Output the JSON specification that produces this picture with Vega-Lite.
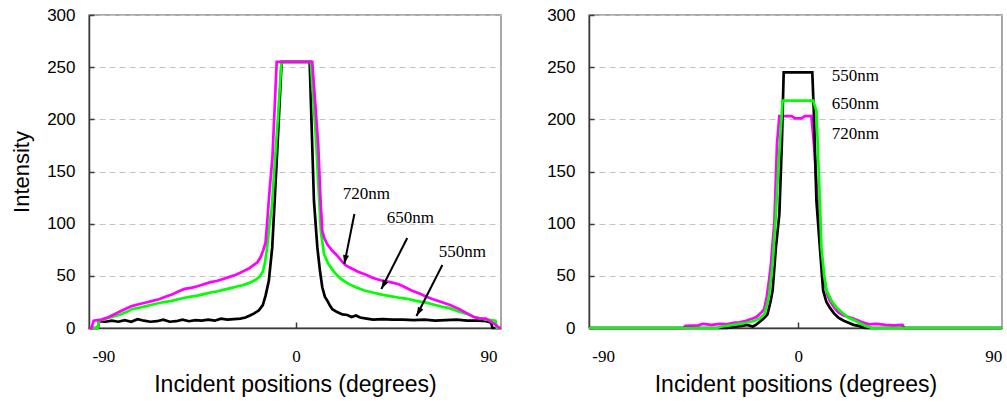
{
  "$schema": "https://vega.github.io/schema/vega-lite/v6.json",
  "autosize": {"type": "pad"},
  "padding": {"left": 9, "top": 5, "right": 0, "bottom": 5},
  "background": "white",
  "spacing": 88,
  "bounds": "flush",
  "config": {
    "view": {"stroke": "#8a8a8a", "strokeWidth": 1.5},
    "axis": {"domainColor": "#3a3a3a", "domainWidth": 1.5, "tickColor": "#3a3a3a", "tickWidth": 1.5, "labelColor": "#000000", "titleColor": "#000000", "titleFontWeight": "normal", "titleFont": "Liberation Sans"},
    "axisY": {"labelFont": "Liberation Sans", "labelFontSize": 17, "tickSize": -5, "labelPadding": 19, "grid": true, "gridColor": "#c4c4c4", "gridDash": [6, 4], "gridWidth": 1, "titleFontSize": 22, "titlePadding": 13},
    "axisX": {"labelFont": "Liberation Serif", "labelFontSize": 17, "tickSize": -6, "labelPadding": 26, "grid": false, "titleFontSize": 23, "titlePadding": 9, "labelExpr": "toString(datum.value)"}
  },
  "datasets": {
    "left": [
      {"s": "550nm", "x": -96.9, "y": 0}, {"s": "550nm", "x": -92.6, "y": 0}, {"s": "550nm", "x": -92, "y": 6.5}, {"s": "550nm", "x": -89, "y": 6}, {"s": "550nm", "x": -86, "y": 7}, {"s": "550nm", "x": -83, "y": 6}, {"s": "550nm", "x": -80, "y": 7.5}, {"s": "550nm", "x": -77, "y": 6}, {"s": "550nm", "x": -74, "y": 8.5}, {"s": "550nm", "x": -71, "y": 7}, {"s": "550nm", "x": -68, "y": 6}, {"s": "550nm", "x": -65, "y": 6.5}, {"s": "550nm", "x": -62, "y": 8}, {"s": "550nm", "x": -59, "y": 6}, {"s": "550nm", "x": -56, "y": 6.5}, {"s": "550nm", "x": -53, "y": 8}, {"s": "550nm", "x": -50, "y": 6.5}, {"s": "550nm", "x": -47, "y": 7.5}, {"s": "550nm", "x": -44, "y": 7}, {"s": "550nm", "x": -41, "y": 8}, {"s": "550nm", "x": -38, "y": 7}, {"s": "550nm", "x": -35, "y": 9}, {"s": "550nm", "x": -32, "y": 8}, {"s": "550nm", "x": -29, "y": 8.5}, {"s": "550nm", "x": -26, "y": 9}, {"s": "550nm", "x": -23.6, "y": 10}, {"s": "550nm", "x": -21.5, "y": 12}, {"s": "550nm", "x": -19.5, "y": 14}, {"s": "550nm", "x": -17.3, "y": 17}, {"s": "550nm", "x": -15.5, "y": 22}, {"s": "550nm", "x": -14.2, "y": 31}, {"s": "550nm", "x": -12.7, "y": 45}, {"s": "550nm", "x": -11.1, "y": 77}, {"s": "550nm", "x": -10, "y": 120}, {"s": "550nm", "x": -8.5, "y": 180}, {"s": "550nm", "x": -6.7, "y": 255}, {"s": "550nm", "x": 6.4, "y": 255}, {"s": "550nm", "x": 8.4, "y": 122}, {"s": "550nm", "x": 10, "y": 77}, {"s": "550nm", "x": 11.2, "y": 55}, {"s": "550nm", "x": 12.3, "y": 39}, {"s": "550nm", "x": 13.5, "y": 30}, {"s": "550nm", "x": 14.7, "y": 26}, {"s": "550nm", "x": 16, "y": 21}, {"s": "550nm", "x": 17, "y": 18}, {"s": "550nm", "x": 19, "y": 15.5}, {"s": "550nm", "x": 21.7, "y": 13}, {"s": "550nm", "x": 24, "y": 12.5}, {"s": "550nm", "x": 26, "y": 10.5}, {"s": "550nm", "x": 28, "y": 12}, {"s": "550nm", "x": 30, "y": 10}, {"s": "550nm", "x": 33, "y": 9}, {"s": "550nm", "x": 36, "y": 8}, {"s": "550nm", "x": 40.5, "y": 8.5}, {"s": "550nm", "x": 45, "y": 8}, {"s": "550nm", "x": 50, "y": 8}, {"s": "550nm", "x": 55, "y": 7.5}, {"s": "550nm", "x": 60, "y": 8}, {"s": "550nm", "x": 65, "y": 7}, {"s": "550nm", "x": 70, "y": 7.5}, {"s": "550nm", "x": 75, "y": 8}, {"s": "550nm", "x": 80, "y": 7}, {"s": "550nm", "x": 85, "y": 7}, {"s": "550nm", "x": 89, "y": 6.5}, {"s": "550nm", "x": 91.2, "y": 5}, {"s": "550nm", "x": 91.8, "y": 0}, {"s": "550nm", "x": 95.7, "y": 0},
      {"s": "650nm", "x": -96.9, "y": 0}, {"s": "650nm", "x": -92.6, "y": 0}, {"s": "650nm", "x": -92, "y": 7}, {"s": "650nm", "x": -89, "y": 9}, {"s": "650nm", "x": -86, "y": 10.5}, {"s": "650nm", "x": -82, "y": 13}, {"s": "650nm", "x": -79, "y": 15.5}, {"s": "650nm", "x": -76.7, "y": 18}, {"s": "650nm", "x": -73, "y": 19.5}, {"s": "650nm", "x": -70, "y": 21}, {"s": "650nm", "x": -67, "y": 22.5}, {"s": "650nm", "x": -64, "y": 24}, {"s": "650nm", "x": -61, "y": 25}, {"s": "650nm", "x": -58, "y": 26}, {"s": "650nm", "x": -55, "y": 27.5}, {"s": "650nm", "x": -52, "y": 29}, {"s": "650nm", "x": -49, "y": 30}, {"s": "650nm", "x": -46, "y": 31}, {"s": "650nm", "x": -43, "y": 32.5}, {"s": "650nm", "x": -40, "y": 34}, {"s": "650nm", "x": -37, "y": 35}, {"s": "650nm", "x": -34, "y": 36.5}, {"s": "650nm", "x": -31, "y": 38}, {"s": "650nm", "x": -28, "y": 39.5}, {"s": "650nm", "x": -25, "y": 41}, {"s": "650nm", "x": -22, "y": 43}, {"s": "650nm", "x": -19, "y": 46}, {"s": "650nm", "x": -17, "y": 49}, {"s": "650nm", "x": -15.5, "y": 54}, {"s": "650nm", "x": -14.5, "y": 62}, {"s": "650nm", "x": -13.3, "y": 80}, {"s": "650nm", "x": -12.3, "y": 100}, {"s": "650nm", "x": -11.3, "y": 115}, {"s": "650nm", "x": -10.5, "y": 140}, {"s": "650nm", "x": -8.5, "y": 200}, {"s": "650nm", "x": -6.8, "y": 255}, {"s": "650nm", "x": 6.9, "y": 255}, {"s": "650nm", "x": 9.2, "y": 186}, {"s": "650nm", "x": 10.7, "y": 128}, {"s": "650nm", "x": 11.6, "y": 93}, {"s": "650nm", "x": 13.1, "y": 71}, {"s": "650nm", "x": 15, "y": 62}, {"s": "650nm", "x": 17, "y": 56}, {"s": "650nm", "x": 19, "y": 51}, {"s": "650nm", "x": 21, "y": 47}, {"s": "650nm", "x": 24.8, "y": 42}, {"s": "650nm", "x": 28, "y": 39}, {"s": "650nm", "x": 32, "y": 36}, {"s": "650nm", "x": 35.8, "y": 34}, {"s": "650nm", "x": 40, "y": 32}, {"s": "650nm", "x": 44, "y": 30.5}, {"s": "650nm", "x": 48.3, "y": 29}, {"s": "650nm", "x": 52, "y": 28}, {"s": "650nm", "x": 56, "y": 26}, {"s": "650nm", "x": 60.8, "y": 24.3}, {"s": "650nm", "x": 65, "y": 22}, {"s": "650nm", "x": 68, "y": 20.5}, {"s": "650nm", "x": 71.7, "y": 19}, {"s": "650nm", "x": 75, "y": 16.5}, {"s": "650nm", "x": 79.5, "y": 13.7}, {"s": "650nm", "x": 83, "y": 11}, {"s": "650nm", "x": 85.8, "y": 9.3}, {"s": "650nm", "x": 89, "y": 8}, {"s": "650nm", "x": 93.2, "y": 7}, {"s": "650nm", "x": 93.8, "y": 0}, {"s": "650nm", "x": 95.7, "y": 0},
      {"s": "720nm", "x": -96.9, "y": 0}, {"s": "720nm", "x": -95.5, "y": 0}, {"s": "720nm", "x": -94.5, "y": 7}, {"s": "720nm", "x": -91, "y": 8}, {"s": "720nm", "x": -88, "y": 10}, {"s": "720nm", "x": -85, "y": 13}, {"s": "720nm", "x": -82, "y": 16}, {"s": "720nm", "x": -79, "y": 19}, {"s": "720nm", "x": -76.7, "y": 21}, {"s": "720nm", "x": -73, "y": 23}, {"s": "720nm", "x": -70, "y": 24.5}, {"s": "720nm", "x": -67, "y": 26}, {"s": "720nm", "x": -64, "y": 27.5}, {"s": "720nm", "x": -61, "y": 30}, {"s": "720nm", "x": -58, "y": 32}, {"s": "720nm", "x": -55, "y": 35}, {"s": "720nm", "x": -52, "y": 37.5}, {"s": "720nm", "x": -49, "y": 38.5}, {"s": "720nm", "x": -46, "y": 40}, {"s": "720nm", "x": -43, "y": 42}, {"s": "720nm", "x": -40, "y": 44}, {"s": "720nm", "x": -37, "y": 45}, {"s": "720nm", "x": -34, "y": 47}, {"s": "720nm", "x": -31, "y": 49}, {"s": "720nm", "x": -28, "y": 51}, {"s": "720nm", "x": -25, "y": 54}, {"s": "720nm", "x": -22, "y": 57}, {"s": "720nm", "x": -20, "y": 60}, {"s": "720nm", "x": -18, "y": 63}, {"s": "720nm", "x": -16.5, "y": 68}, {"s": "720nm", "x": -15.2, "y": 75}, {"s": "720nm", "x": -14.2, "y": 82}, {"s": "720nm", "x": -13.3, "y": 105}, {"s": "720nm", "x": -12.6, "y": 125}, {"s": "720nm", "x": -11.4, "y": 154}, {"s": "720nm", "x": -11, "y": 163}, {"s": "720nm", "x": -9, "y": 255}, {"s": "720nm", "x": 7.6, "y": 255}, {"s": "720nm", "x": 10.4, "y": 176}, {"s": "720nm", "x": 11.5, "y": 122}, {"s": "720nm", "x": 12.3, "y": 93}, {"s": "720nm", "x": 13.3, "y": 86}, {"s": "720nm", "x": 14.7, "y": 80}, {"s": "720nm", "x": 17, "y": 74}, {"s": "720nm", "x": 19, "y": 70}, {"s": "720nm", "x": 21, "y": 65}, {"s": "720nm", "x": 23.3, "y": 60}, {"s": "720nm", "x": 26, "y": 57}, {"s": "720nm", "x": 29, "y": 54}, {"s": "720nm", "x": 32.7, "y": 51}, {"s": "720nm", "x": 36, "y": 48}, {"s": "720nm", "x": 40, "y": 45.5}, {"s": "720nm", "x": 44, "y": 44}, {"s": "720nm", "x": 48, "y": 42}, {"s": "720nm", "x": 51, "y": 39}, {"s": "720nm", "x": 54, "y": 36}, {"s": "720nm", "x": 57.7, "y": 33}, {"s": "720nm", "x": 61, "y": 30}, {"s": "720nm", "x": 64, "y": 27.5}, {"s": "720nm", "x": 68.6, "y": 24.5}, {"s": "720nm", "x": 72, "y": 22}, {"s": "720nm", "x": 76.4, "y": 18}, {"s": "720nm", "x": 80, "y": 14}, {"s": "720nm", "x": 83, "y": 10.5}, {"s": "720nm", "x": 86, "y": 9}, {"s": "720nm", "x": 88.8, "y": 9}, {"s": "720nm", "x": 92.7, "y": 4}, {"s": "720nm", "x": 95, "y": 0}, {"s": "720nm", "x": 95.7, "y": 0}
    ],
    "right": [
      {"s": "720nm", "x": -96.5, "y": 0}, {"s": "720nm", "x": -53, "y": 0}, {"s": "720nm", "x": -52, "y": 2}, {"s": "720nm", "x": -46, "y": 2.5}, {"s": "720nm", "x": -44, "y": 4}, {"s": "720nm", "x": -40, "y": 3}, {"s": "720nm", "x": -36, "y": 4}, {"s": "720nm", "x": -33, "y": 3.5}, {"s": "720nm", "x": -30, "y": 5}, {"s": "720nm", "x": -27, "y": 5.5}, {"s": "720nm", "x": -24, "y": 7}, {"s": "720nm", "x": -21, "y": 9}, {"s": "720nm", "x": -19, "y": 11}, {"s": "720nm", "x": -17, "y": 15}, {"s": "720nm", "x": -15.7, "y": 18}, {"s": "720nm", "x": -14.5, "y": 30}, {"s": "720nm", "x": -13.5, "y": 45}, {"s": "720nm", "x": -12.6, "y": 61}, {"s": "720nm", "x": -11, "y": 102}, {"s": "720nm", "x": -10.2, "y": 150}, {"s": "720nm", "x": -9.8, "y": 176}, {"s": "720nm", "x": -8.7, "y": 203}, {"s": "720nm", "x": -3, "y": 203}, {"s": "720nm", "x": -1.5, "y": 201}, {"s": "720nm", "x": 1.5, "y": 201}, {"s": "720nm", "x": 3, "y": 203}, {"s": "720nm", "x": 6.1, "y": 203}, {"s": "720nm", "x": 7.5, "y": 170}, {"s": "720nm", "x": 9, "y": 120}, {"s": "720nm", "x": 10.5, "y": 75}, {"s": "720nm", "x": 12, "y": 45}, {"s": "720nm", "x": 13.5, "y": 32}, {"s": "720nm", "x": 14.6, "y": 26}, {"s": "720nm", "x": 16.5, "y": 20}, {"s": "720nm", "x": 18.5, "y": 15}, {"s": "720nm", "x": 21, "y": 12}, {"s": "720nm", "x": 24, "y": 10}, {"s": "720nm", "x": 26.3, "y": 8.3}, {"s": "720nm", "x": 29, "y": 6}, {"s": "720nm", "x": 32.6, "y": 3.5}, {"s": "720nm", "x": 36, "y": 4}, {"s": "720nm", "x": 40.3, "y": 3}, {"s": "720nm", "x": 44, "y": 2.5}, {"s": "720nm", "x": 48.1, "y": 3}, {"s": "720nm", "x": 48.9, "y": 0}, {"s": "720nm", "x": 94, "y": 0},
      {"s": "550nm", "x": -96.5, "y": 0}, {"s": "550nm", "x": -33, "y": 0}, {"s": "550nm", "x": -30, "y": 1}, {"s": "550nm", "x": -26, "y": 2}, {"s": "550nm", "x": -23.5, "y": 3}, {"s": "550nm", "x": -21, "y": 1.5}, {"s": "550nm", "x": -19.5, "y": 3}, {"s": "550nm", "x": -17.3, "y": 6.7}, {"s": "550nm", "x": -15.5, "y": 10}, {"s": "550nm", "x": -14.2, "y": 13}, {"s": "550nm", "x": -12.8, "y": 25}, {"s": "550nm", "x": -11.8, "y": 36}, {"s": "550nm", "x": -10.3, "y": 77}, {"s": "550nm", "x": -8.7, "y": 109}, {"s": "550nm", "x": -7.5, "y": 180}, {"s": "550nm", "x": -6.7, "y": 245}, {"s": "550nm", "x": 6.5, "y": 245}, {"s": "550nm", "x": 7.3, "y": 202}, {"s": "550nm", "x": 8.4, "y": 122}, {"s": "550nm", "x": 10, "y": 77}, {"s": "550nm", "x": 11.5, "y": 36}, {"s": "550nm", "x": 13, "y": 25}, {"s": "550nm", "x": 14.6, "y": 19.5}, {"s": "550nm", "x": 16.5, "y": 14}, {"s": "550nm", "x": 18.5, "y": 10}, {"s": "550nm", "x": 21, "y": 7}, {"s": "550nm", "x": 23.2, "y": 5}, {"s": "550nm", "x": 25.5, "y": 3}, {"s": "550nm", "x": 27.9, "y": 2}, {"s": "550nm", "x": 31, "y": 0}, {"s": "550nm", "x": 94, "y": 0},
      {"s": "650nm", "x": -96.5, "y": 0}, {"s": "650nm", "x": -37.5, "y": 0}, {"s": "650nm", "x": -35, "y": 1.5}, {"s": "650nm", "x": -33, "y": 2}, {"s": "650nm", "x": -30, "y": 3}, {"s": "650nm", "x": -27, "y": 4}, {"s": "650nm", "x": -24, "y": 5}, {"s": "650nm", "x": -22, "y": 6}, {"s": "650nm", "x": -20.4, "y": 6.7}, {"s": "650nm", "x": -18, "y": 9}, {"s": "650nm", "x": -15.7, "y": 13}, {"s": "650nm", "x": -14.4, "y": 22}, {"s": "650nm", "x": -13.4, "y": 32}, {"s": "650nm", "x": -11.8, "y": 61}, {"s": "650nm", "x": -10.3, "y": 109}, {"s": "650nm", "x": -9, "y": 160}, {"s": "650nm", "x": -7.2, "y": 218}, {"s": "650nm", "x": 6.9, "y": 218}, {"s": "650nm", "x": 8.4, "y": 208}, {"s": "650nm", "x": 10, "y": 122}, {"s": "650nm", "x": 10.7, "y": 77}, {"s": "650nm", "x": 12, "y": 50}, {"s": "650nm", "x": 13.1, "y": 36}, {"s": "650nm", "x": 15.4, "y": 26}, {"s": "650nm", "x": 17.5, "y": 20}, {"s": "650nm", "x": 20.1, "y": 15}, {"s": "650nm", "x": 23, "y": 10}, {"s": "650nm", "x": 26.3, "y": 7}, {"s": "650nm", "x": 29, "y": 4}, {"s": "650nm", "x": 31, "y": 2}, {"s": "650nm", "x": 34, "y": 0}, {"s": "650nm", "x": 94, "y": 0}
    ],
    "leftText": [
      {"label": "720nm", "x": 32.9, "y": 128.4},
      {"label": "650nm", "x": 53.4, "y": 105.4},
      {"label": "550nm", "x": 77.8, "y": 72.8}
    ],
    "arrows": [
      {"label": "720nm", "x": 22.6, "y": 61.3, "x2": 27.3, "y2": 109.3},
      {"label": "650nm", "x": 39.9, "y": 37.4, "x2": 52.0, "y2": 86.3},
      {"label": "550nm", "x": 56.3, "y": 11.5, "x2": 68.4, "y2": 60.4}
    ],
    "rightText": [
      {"label": "550nm", "x": 15.5, "y": 241.5},
      {"label": "650nm", "x": 15.5, "y": 214.7},
      {"label": "720nm", "x": 15.5, "y": 186}
    ]
  },
  "hconcat": [
    {
      "width": 412,
      "height": 313,
      "encoding": {
        "x": {"field": "x", "type": "quantitative", "scale": {"domain": [-96.7, 95.8], "nice": false, "zero": false},
              "axis": {"title": "Incident positions (degrees)", "values": [-90, 0, 90], "tickOpacity": {"condition": {"test": "datum.value === 0", "value": 1}, "value": 0}}},
        "y": {"field": "y", "type": "quantitative", "scale": {"domain": [0, 300], "nice": false},
              "axis": {"title": "Intensity", "values": [0, 50, 100, 150, 200, 250, 300]}}
      },
      "layer": [
        {"data": {"name": "left"}, "transform": [{"filter": "datum.s === '550nm'"}], "mark": {"type": "line", "color": "#000000", "strokeWidth": 2.7}},
        {"data": {"name": "left"}, "transform": [{"filter": "datum.s === '650nm'"}], "mark": {"type": "line", "color": "#00ff00", "strokeWidth": 2.7}},
        {"data": {"name": "left"}, "transform": [{"filter": "datum.s === '720nm'"}], "mark": {"type": "line", "color": "#ff00ff", "strokeWidth": 2.7}},
        {"data": {"name": "leftText"}, "mark": {"type": "text", "font": "Liberation Serif", "fontSize": 17, "color": "#000000", "align": "center", "baseline": "middle"}, "encoding": {"text": {"field": "label"}}},
        {"data": {"name": "arrows"}, "mark": {"type": "rule", "color": "#000000", "strokeWidth": 2}, "encoding": {"x2": {"field": "x2"}, "y2": {"field": "y2"}}},
        {"data": {"name": "arrows"}, "transform": [{"filter": "datum.label === '720nm'"}], "mark": {"type": "point", "shape": "M0,0L-0.6,-1.8L0.6,-1.8Z", "size": 100, "filled": true, "color": "#000000", "opacity": 1, "angle": 11}},
        {"data": {"name": "arrows"}, "transform": [{"filter": "datum.label !== '720nm'"}], "mark": {"type": "point", "shape": "M0,0L-0.6,-1.8L0.6,-1.8Z", "size": 100, "filled": true, "color": "#000000", "opacity": 1, "angle": 28}}
      ]
    },
    {
      "width": 413,
      "height": 313,
      "encoding": {
        "x": {"field": "x", "type": "quantitative", "scale": {"domain": [-96.5, 94.0], "nice": false, "zero": false},
              "axis": {"title": "Incident positions (degrees)", "values": [-90, 0, 90], "tickOpacity": {"condition": {"test": "datum.value === 0", "value": 1}, "value": 0}}},
        "y": {"field": "y", "type": "quantitative", "scale": {"domain": [0, 300], "nice": false},
              "axis": {"title": null, "values": [0, 50, 100, 150, 200, 250, 300]}}
      },
      "layer": [
        {"data": {"name": "right"}, "transform": [{"filter": "datum.s === '720nm'"}], "mark": {"type": "line", "color": "#ff00ff", "strokeWidth": 2.7}},
        {"data": {"name": "right"}, "transform": [{"filter": "datum.s === '550nm'"}], "mark": {"type": "line", "color": "#000000", "strokeWidth": 2.7}},
        {"data": {"name": "right"}, "transform": [{"filter": "datum.s === '650nm'"}], "mark": {"type": "line", "color": "#00ff00", "strokeWidth": 2.7}},
        {"data": {"name": "rightText"}, "mark": {"type": "text", "font": "Liberation Serif", "fontSize": 17, "color": "#000000", "align": "left", "baseline": "middle"}, "encoding": {"text": {"field": "label"}}}
      ]
    }
  ]
}
